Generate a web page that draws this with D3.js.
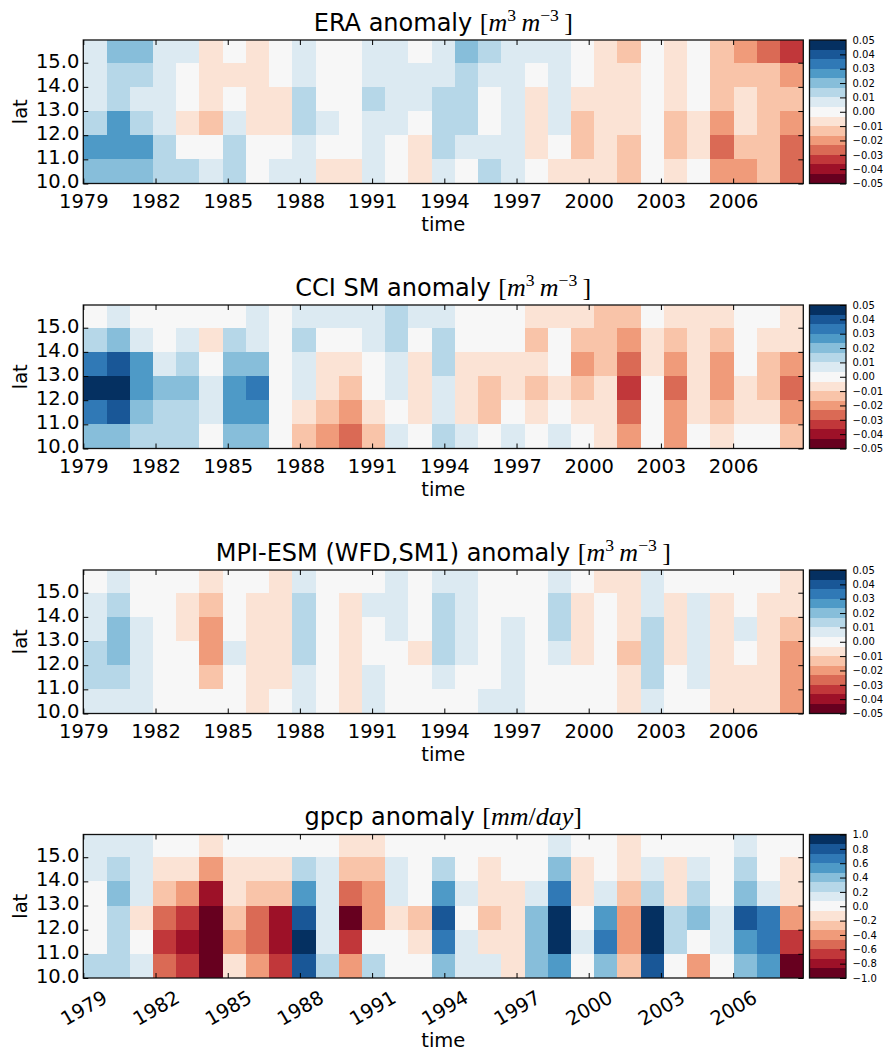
<!DOCTYPE html>
<html>
<head>
<meta charset="utf-8">
<script src="https://cdn.jsdelivr.net/npm/d3@7"></script>
<style>
  body { margin: 0; background: #fff; }
  text { font-family: "DejaVu Sans", sans-serif; fill: #000; }
</style>
</head>
<body>
<svg id="fig" width="886" height="1054"></svg>
<script>
// ---- grid coordinates -------------------------------------------------
// time coverage of the annual grid (first and last time step)
const timeSpan = ["1979-01-01", "2008-12-01"];
// latitude rows (lower edge of each cell), listed top row first
const latRows = [15, 14, 13, 12, 11, 10];
// latitude extent of the grid
const latExtent = [10, 15.94];

// ---- tick labels ------------------------------------------------------
const yearTicks = [1979, 1982, 1985, 1988, 1991, 1994, 1997, 2000, 2003, 2006];
const latTicks = [10, 11, 12, 13, 14, 15];
const smTicks = [-0.05, -0.04, -0.03, -0.02, -0.01, 0, 0.01, 0.02, 0.03, 0.04, 0.05];
const prTicks = [-1.0, -0.8, -0.6, -0.4, -0.2, 0, 0.2, 0.4, 0.6, 0.8, 1.0];

// ---- anomalies, one row per latitude band (top row first) -------------
const eraAnomaly = [
  [0.007,0.02,0.02,0.007,0.007,-0.007,0,-0.007,0,0.007,0,0,0.007,0.007,0,0.007,0.02,0.013,0.007,0.007,0.007,0,-0.007,-0.013,0,-0.007,0,-0.013,-0.02,-0.027,-0.033],
  [0.007,0.013,0.013,0.007,0,-0.007,-0.007,-0.007,0,0.007,0,0,0.007,0.007,0.007,0.007,0.013,0.007,0.007,0,0.007,0,-0.007,-0.007,0,-0.007,0,-0.013,-0.013,-0.013,-0.02],
  [0.007,0.013,0.007,0.007,0,-0.007,0,-0.007,-0.007,0.013,0,0,0.013,0.007,0.007,0.013,0.013,0,0.007,-0.007,0.007,-0.007,-0.007,-0.007,0,-0.007,0,-0.013,-0.007,-0.013,-0.013],
  [0.013,0.027,0.013,0.007,-0.007,-0.013,0.007,-0.007,-0.007,0.013,0.007,0,0.007,0.007,0,0.013,0.013,0,0.007,-0.007,0.007,-0.013,-0.007,-0.007,0,-0.013,-0.007,-0.02,-0.007,-0.013,-0.02],
  [0.027,0.027,0.027,0.013,0,0,0.013,0,0,0.007,0,0,0.007,0,-0.007,0.013,0.007,0.007,0.007,-0.007,0,-0.013,-0.007,-0.013,0,-0.013,-0.007,-0.027,-0.013,-0.013,-0.027],
  [0.02,0.02,0.02,0.013,0.013,0.007,0.013,0,0.007,0.007,-0.007,-0.007,0.007,0,-0.007,0.007,0,0.013,0.007,0,-0.007,-0.007,-0.007,-0.013,0,-0.007,0,-0.02,-0.02,-0.013,-0.027]
];

const cciAnomaly = [
  [0,0.007,0,0,0,0,0,0.007,0,0.007,0.007,0.007,0.007,0.013,0.007,0.007,0,0,0,-0.007,-0.007,-0.007,-0.013,-0.013,0,-0.007,-0.007,-0.007,0,0,-0.007],
  [0.013,0.02,0.007,0,0.007,-0.007,0.013,0.007,0,0.013,0,0,0.007,0.013,0,0.013,0,0,0,-0.013,0,-0.013,-0.013,-0.02,-0.007,-0.013,-0.007,-0.013,0,-0.007,-0.007],
  [0.033,0.04,0.027,0.007,0.013,0,0.02,0.02,0,0.007,-0.007,-0.007,0,0.007,-0.007,0.013,-0.007,-0.007,-0.007,-0.007,0,-0.02,-0.013,-0.027,-0.007,-0.02,-0.007,-0.02,0,-0.013,-0.02],
  [0.047,0.047,0.027,0.02,0.02,0.007,0.027,0.033,0,0.007,-0.007,-0.013,0,0.007,-0.007,0.007,-0.007,-0.013,-0.007,-0.013,-0.007,-0.013,-0.007,-0.033,0,-0.027,-0.007,-0.02,-0.007,-0.013,-0.027],
  [0.033,0.04,0.02,0.013,0.013,0.007,0.027,0.027,0,-0.007,-0.013,-0.02,-0.007,0,-0.007,0.007,-0.007,-0.013,0,-0.007,0,-0.007,-0.007,-0.027,0,-0.02,-0.007,-0.013,-0.007,-0.007,-0.02],
  [0.02,0.02,0.013,0.013,0.013,0,0.02,0.02,0,-0.013,-0.02,-0.027,-0.013,0.007,0,0.013,0.007,0,0.007,0,0.007,0,-0.007,-0.02,0,-0.02,0,-0.007,0,0,-0.013]
];

const mpiAnomaly = [
  [0,0.007,0,0,0,-0.007,0,0,-0.007,0.007,0,0,0,0.007,0,0.007,0.007,0,0,0,0.007,0,-0.007,-0.007,0.007,0,0,0,0,0,-0.007],
  [0.007,0.013,0,0,-0.007,-0.013,0,-0.007,-0.007,0.013,0,-0.007,0.007,0.007,0,0.013,0.007,0,0,0,0.013,-0.007,0,-0.007,0.007,-0.007,0.007,-0.007,0,-0.007,-0.007],
  [0.007,0.02,0.007,0,-0.007,-0.02,0,-0.007,-0.007,0.013,0,-0.007,0,0.007,0,0.013,0.007,0,0.007,0,0.013,-0.007,0,-0.007,0.013,-0.007,0.007,-0.007,0.007,-0.007,-0.013],
  [0.013,0.02,0.007,0,0,-0.02,0.007,-0.007,-0.007,0.013,0,-0.007,0,0,-0.007,0.013,0.007,0,0.007,0,0.007,-0.007,0,-0.013,0.013,-0.007,0.007,-0.007,0,-0.007,-0.02],
  [0.013,0.013,0.007,0,0,-0.013,0,-0.007,-0.007,0.007,0,-0.007,0.007,0,0,0.007,0,0,0.007,0,0,0,0,-0.007,0.013,0,0.007,-0.007,-0.007,-0.007,-0.02],
  [0.007,0.007,0.007,0,0,0,0,-0.007,0,0.007,0,-0.007,0.007,0,0,0,0,0.007,0.007,0,0,0,0,-0.007,0.007,0,0,-0.007,-0.007,-0.007,-0.02]
];

const gpcpAnomaly = [
  [0.13,0.13,0.13,0,0,-0.13,0,0,0,0,0,-0.13,-0.13,0,0,0,0,0,0,0,0.13,0,0,-0.13,0,0,0,0,0.13,0,0],
  [0.13,0.27,0.13,-0.13,-0.13,-0.4,-0.13,-0.13,-0.13,0.27,0.13,-0.27,-0.27,0.13,0,0.27,0,-0.13,0,0,0.4,-0.13,0,-0.13,0.13,-0.13,0.13,0,0.27,0,-0.13],
  [0,0.4,0.13,-0.27,-0.4,-0.8,-0.13,-0.27,-0.27,0.53,0.13,-0.53,-0.4,0.13,0,0.53,0.13,-0.13,-0.13,0.13,0.67,-0.13,0.13,-0.27,0.27,-0.13,0.27,0,0.4,0.13,-0.13],
  [0,0.27,-0.13,-0.53,-0.67,-0.93,-0.27,-0.53,-0.8,0.8,0.13,-0.93,-0.4,-0.13,-0.27,0.8,0,-0.27,-0.13,0.4,0.93,0,0.53,-0.4,0.93,0.27,0.4,0.13,0.8,0.67,-0.4],
  [0,0.27,0,-0.67,-0.8,-0.93,-0.4,-0.53,-0.8,0.93,0.13,-0.67,0,0,-0.13,0.67,0.13,-0.13,-0.13,0.4,0.93,0.13,0.67,-0.4,0.93,0.27,0,0.13,0.53,0.67,-0.67],
  [0.27,0.27,0.13,-0.53,-0.67,-0.93,-0.13,-0.4,-0.67,0.8,0.27,-0.4,0.27,0,0,0.4,0.13,0.13,-0.13,0.4,0.53,0,0.4,-0.27,0.8,0,-0.4,0,0.4,0.53,-0.93]
];

// ---- colour map: RdBu ramp cut into 15 discrete levels ----------------
const rdbu = ["#67001f","#b2182b","#d6604d","#f4a582","#fddbc7","#f7f7f7",
              "#d1e5f0","#92c5de","#4393c3","#2166ac","#053061"];
const ramp = d3.scaleLinear()
  .domain(rdbu.map((_, i) => i / (rdbu.length - 1)))
  .range(rdbu).interpolate(d3.interpolateRgb);
const nLevels = 15;
const levels = d3.range(nLevels).map(i => ramp(i / (nLevels - 1)));

// ---- layout -----------------------------------------------------------
const plotL = 83.3, plotR = 803.3, panelH = 143.5;
const panelTops = [40, 305, 570, 834.5];
const cbL = 809.5, cbW = 36.5;
const tickFont = 19.5, titleFont = 24, unitFont = 26, cbFont = 10;

const smUnit = [
  {t: "["}, {t: "m", it: true}, {t: "3", sup: true}, {t: "\u2009"},
  {t: "m", it: true}, {t: "\u22123", sup: true}, {t: "\u2009]"}
];
const prUnit = [
  {t: "["}, {t: "mm", it: true}, {t: "/"}, {t: "day", it: true}, {t: "]"}
];

const panels = [
  {title: "ERA anomaly", unit: smUnit, data: eraAnomaly,
   domain: [-0.05, 0.05], cbTicks: smTicks, fmt: d3.format(".2f"), rotate: false},
  {title: "CCI SM anomaly", unit: smUnit, data: cciAnomaly,
   domain: [-0.05, 0.05], cbTicks: smTicks, fmt: d3.format(".2f"), rotate: false},
  {title: "MPI-ESM (WFD,SM1) anomaly", unit: smUnit, data: mpiAnomaly,
   domain: [-0.05, 0.05], cbTicks: smTicks, fmt: d3.format(".2f"), rotate: false},
  {title: "gpcp anomaly", unit: prUnit, data: gpcpAnomaly,
   domain: [-1, 1], cbTicks: prTicks, fmt: d3.format(".1f"), rotate: true}
];

const svg = d3.select("#fig");
const x = d3.scaleTime().domain(timeSpan.map(d3.isoParse)).range([plotL, plotR]);
const steps = d3.scaleBand().domain(d3.range(eraAnomaly[0].length)).range(x.range());
const yearDates = yearTicks.map(yr => new Date(yr, 0, 1));

function styleAxis(sel) {
  sel.attr("font-family", null).attr("font-size", null).attr("color", "#000");
  sel.select(".domain").remove();
  sel.selectAll(".tick line").attr("stroke-width", 1);
}

function drawTitle(g, cx, cy, lead, unit) {
  const t = g.append("text")
    .attr("x", cx).attr("y", cy)
    .attr("text-anchor", "middle")
    .attr("font-size", titleFont);
  t.append("tspan").text(lead + " ");
  let shift = 0;
  unit.forEach(p => {
    const s = t.append("tspan").text(p.t)
      .attr("font-family", "'Liberation Serif', 'DejaVu Serif', serif")
      .attr("font-size", p.sup ? unitFont * 0.68 : unitFont);
    if (p.it) s.attr("font-style", "italic");
    const want = p.sup ? -10 : 0;
    if (want !== shift) { s.attr("dy", want - shift); shift = want; }
  });
}

panels.forEach((p, i) => {
  const top = panelTops[i], bottom = top + panelH;
  const g = svg.append("g");
  const y = d3.scaleLinear().domain(latExtent).range([bottom, top]).clamp(true);
  const color = d3.scaleQuantize().domain(p.domain).range(levels);

  // cells
  const cells = p.data.flatMap((row, r) =>
    row.map((v, c) => ({lat: latRows[r], step: c, v})));
  g.append("g").attr("shape-rendering", "crispEdges")
    .selectAll("rect").data(cells).join("rect")
    .attr("x", d => steps(d.step))
    .attr("width", steps.bandwidth())
    .attr("y", d => y(d.lat + 1))
    .attr("height", d => y(d.lat) - y(d.lat + 1))
    .attr("fill", d => color(d.v));

  // frame
  g.append("rect")
    .attr("x", plotL).attr("y", top)
    .attr("width", plotR - plotL).attr("height", panelH)
    .attr("fill", "none").attr("stroke", "#111").attr("stroke-width", 1.3);

  // axes with inward ticks
  const xb = g.append("g").attr("transform", `translate(0,${bottom})`)
    .call(d3.axisBottom(x).tickValues(yearDates).tickFormat(d3.timeFormat("%Y"))
      .tickSizeInner(-5).tickSizeOuter(0).tickPadding(10.5));
  styleAxis(xb);
  xb.selectAll("text").attr("font-size", tickFont);
  if (p.rotate) {
    xb.selectAll("text")
      .attr("y", 0).attr("dy", "0.35em")
      .attr("text-anchor", "middle")
      .attr("transform", "translate(0,30) rotate(-30)");
  }
  const xt = g.append("g").attr("transform", `translate(0,${top})`)
    .call(d3.axisTop(x).tickValues(yearDates).tickFormat("")
      .tickSizeInner(-5).tickSizeOuter(0));
  styleAxis(xt);

  const yl = g.append("g").attr("transform", `translate(${plotL},0)`)
    .call(d3.axisLeft(y).tickValues(latTicks).tickFormat(d3.format(".1f"))
      .tickSizeInner(-5).tickSizeOuter(0).tickPadding(4));
  styleAxis(yl);
  yl.selectAll("text").attr("font-size", tickFont).attr("dy", "0.22em");
  const yr = g.append("g").attr("transform", `translate(${plotR},0)`)
    .call(d3.axisRight(y).tickValues(latTicks).tickFormat("")
      .tickSizeInner(-5).tickSizeOuter(0));
  styleAxis(yr);

  // axis labels
  g.append("text")
    .attr("transform", `translate(27,${(top + bottom) / 2}) rotate(-90)`)
    .attr("text-anchor", "middle").attr("font-size", tickFont).text("lat");
  g.append("text")
    .attr("x", (plotL + plotR) / 2)
    .attr("y", bottom + (p.rotate ? 69 : 47))
    .attr("text-anchor", "middle").attr("font-size", tickFont).text("time");

  drawTitle(g, (plotL + plotR) / 2, top - 9.5, p.title, p.unit);

  // colour bar
  const cb = d3.scaleLinear().domain(p.domain).range([bottom, top]);
  g.append("g").attr("shape-rendering", "crispEdges")
    .selectAll("rect").data(levels).join("rect")
    .attr("x", cbL).attr("width", cbW)
    .attr("y", c => cb(color.invertExtent(c)[1]))
    .attr("height", c => cb(color.invertExtent(c)[0]) - cb(color.invertExtent(c)[1]))
    .attr("fill", c => c);
  g.append("rect")
    .attr("x", cbL).attr("y", top).attr("width", cbW).attr("height", panelH)
    .attr("fill", "none").attr("stroke", "#111").attr("stroke-width", 1.3);
  const ca = g.append("g").attr("transform", `translate(${cbL + cbW},0)`)
    .call(d3.axisRight(cb).tickValues(p.cbTicks).tickFormat(p.fmt)
      .tickSizeInner(-6).tickSizeOuter(0).tickPadding(6.5));
  styleAxis(ca);
  ca.selectAll("text").attr("font-size", cbFont).attr("fill", "#222");
});
</script>
</body>
</html>
